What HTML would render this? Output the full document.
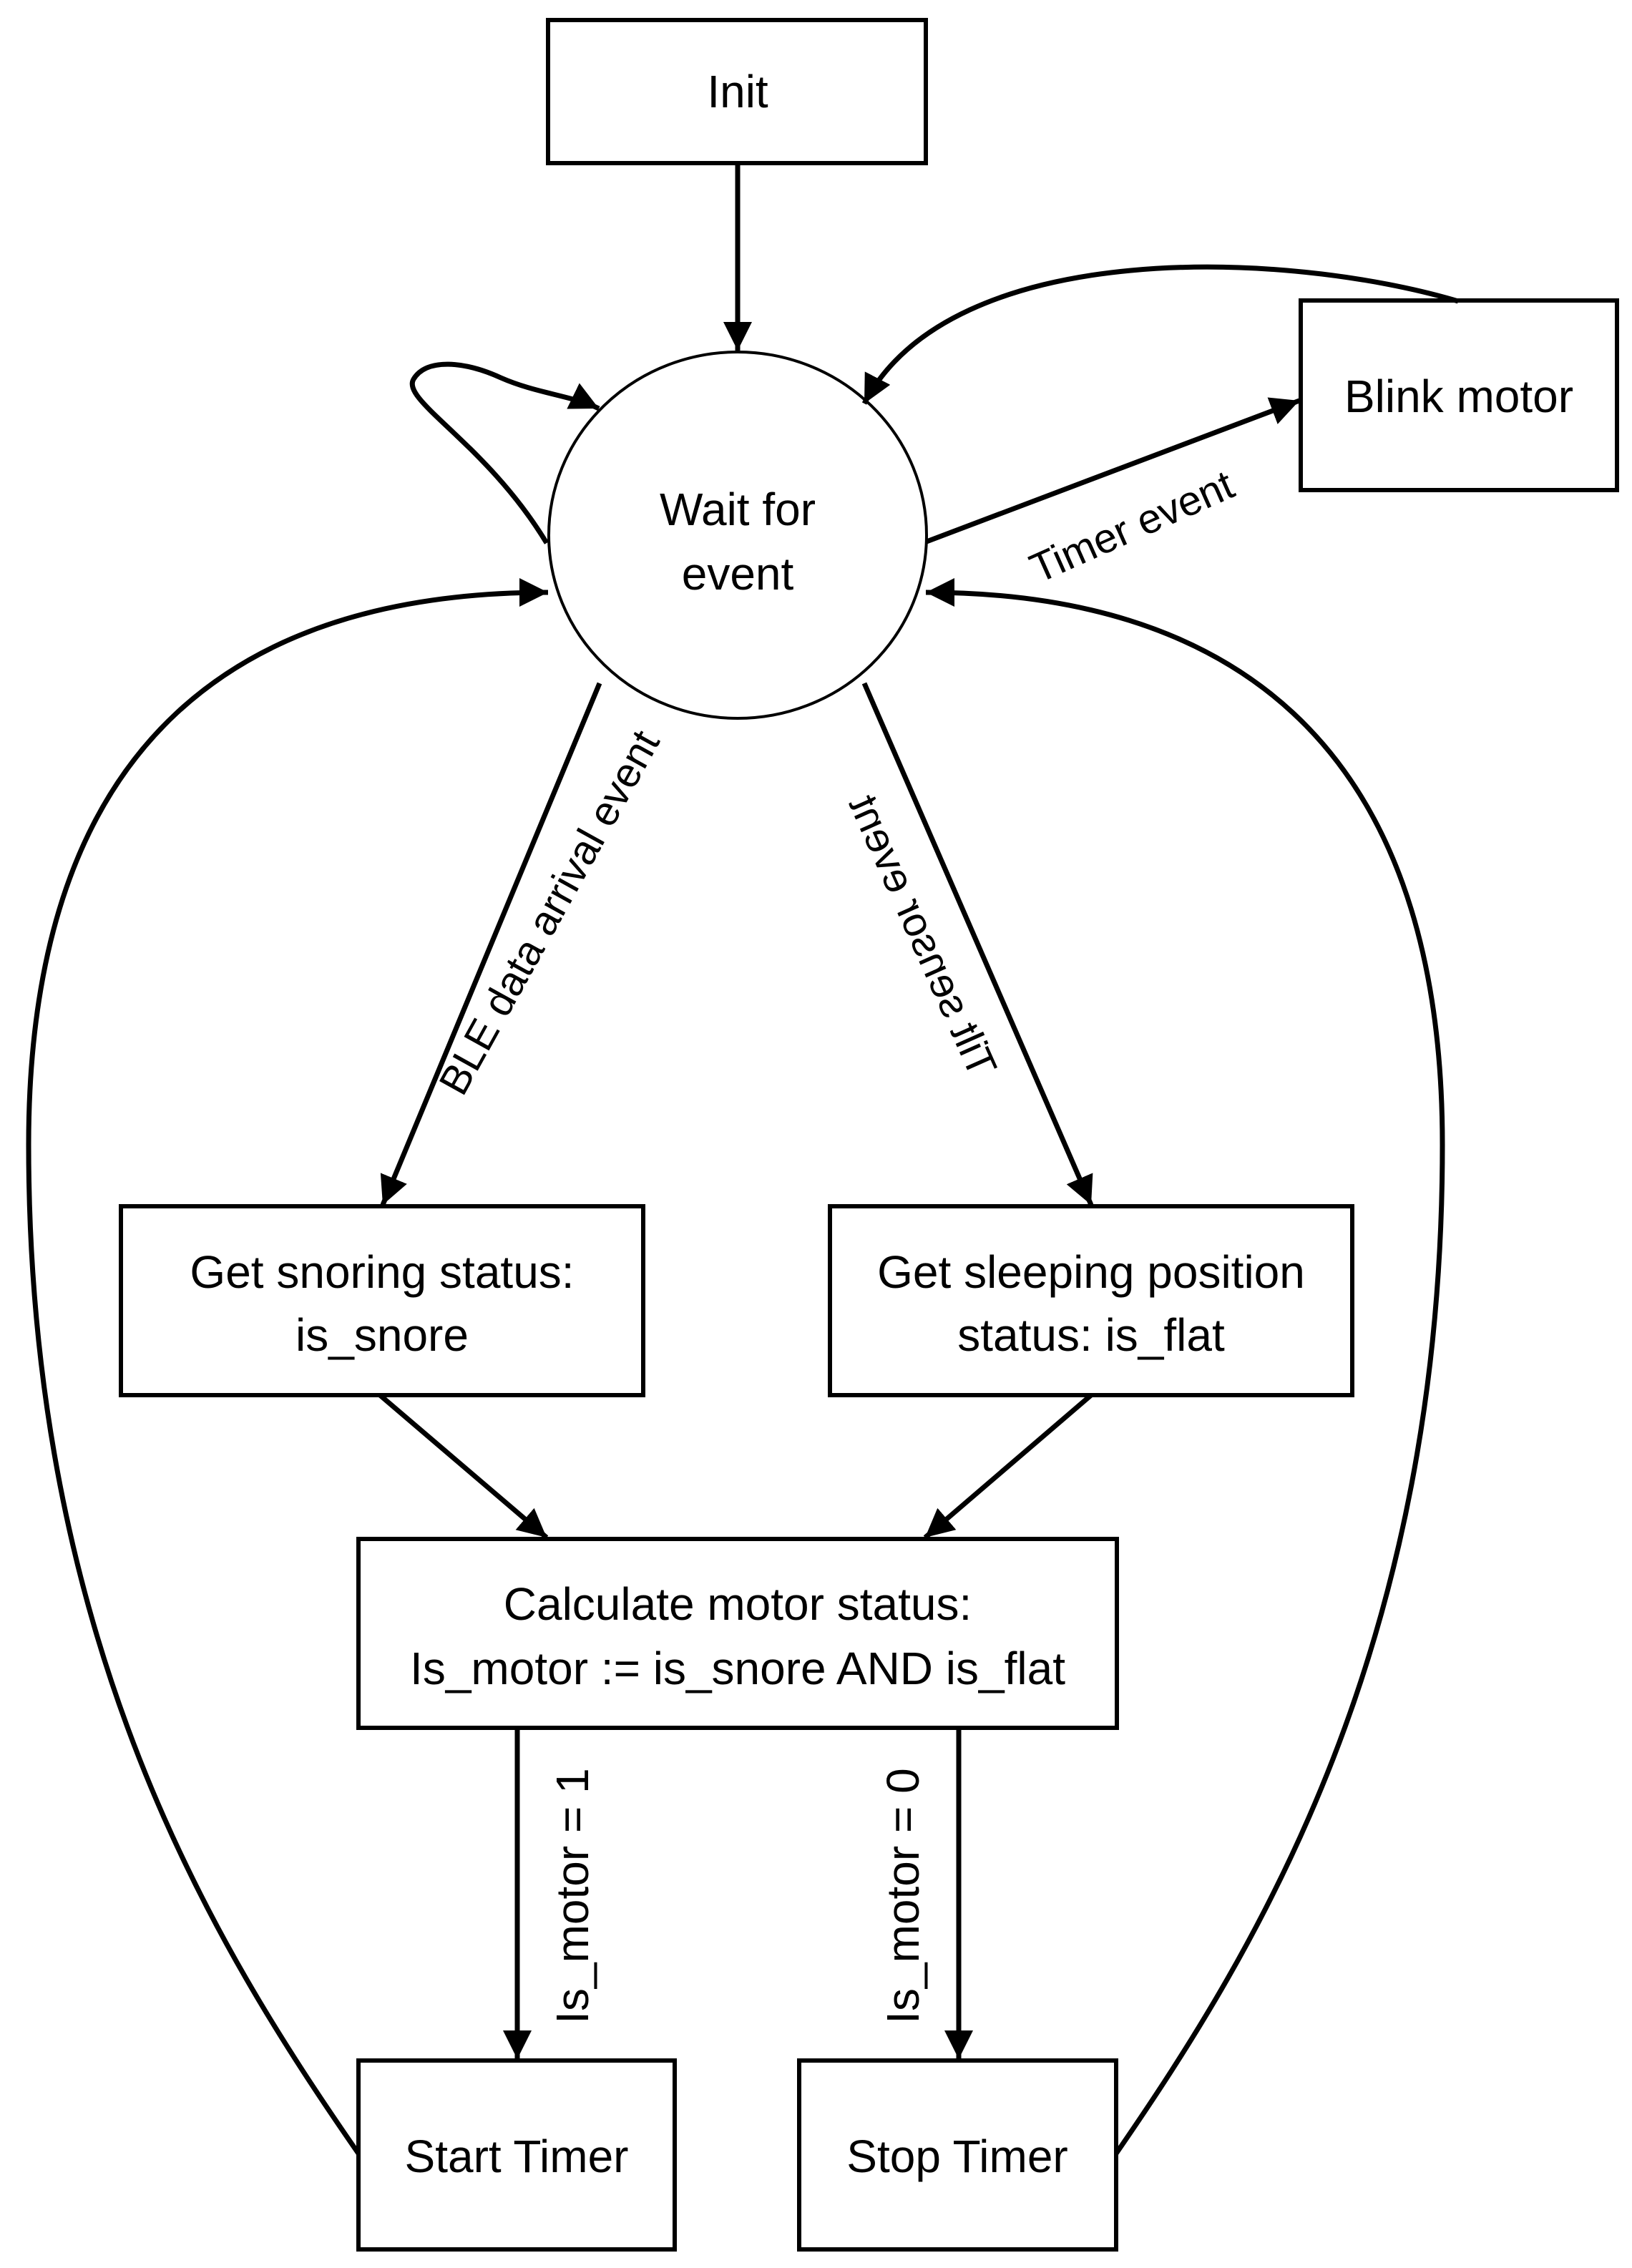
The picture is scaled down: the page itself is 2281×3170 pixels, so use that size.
<!DOCTYPE html>
<html><head><meta charset="utf-8"><style>
html,body{margin:0;padding:0;background:#fff}
svg{display:block}
text{font-family:"Liberation Sans",sans-serif;font-size:64px;fill:#000}
.s{font-size:58px}
</style></head><body>
<svg width="2281" height="3170" viewBox="0 0 2281 3170" xmlns="http://www.w3.org/2000/svg">
<defs>
<marker id="a" markerUnits="userSpaceOnUse" markerWidth="44" markerHeight="40" refX="40" refY="20" orient="auto">
<path d="M0,0 L40,20 L0,40 Z" fill="#000"/>
</marker>
</defs>
<g fill="none" stroke="#000" stroke-width="6">
<rect x="766" y="28" width="528" height="200"/>
<rect x="1818" y="420" width="442" height="265"/>
<rect x="169" y="1686" width="730" height="264"/>
<rect x="1160" y="1686" width="730" height="264"/>
<rect x="501" y="2151" width="1060" height="264"/>
<rect x="501" y="2880" width="442" height="264"/>
<rect x="1117" y="2880" width="443" height="264"/>
</g>
<ellipse cx="1031" cy="748" rx="264" ry="256" fill="none" stroke="#000" stroke-width="4"/>
<g fill="none" stroke="#000" stroke-width="7" marker-end="url(#a)">
<line x1="1031" y1="228" x2="1031" y2="490"/>
<path d="M764,759 C680,620 560,560 578,530 C596,500 650,505 700,528 C750,550 800,553 837,571"/>
<path d="M2038,421 C1800,350 1330,330 1208,564"/>
<line x1="1295" y1="757" x2="1816" y2="560"/>
<line x1="838" y1="955" x2="535" y2="1684"/>
<line x1="1208" y1="955" x2="1525" y2="1684"/>
<line x1="531" y1="1950" x2="764" y2="2149"/>
<line x1="1525" y1="1950" x2="1293" y2="2149"/>
<line x1="723" y1="2415" x2="723" y2="2878"/>
<line x1="1340" y1="2415" x2="1340" y2="2878"/>
<path d="M501,3010 C300,2720 40,2300 40,1600 C40,1020 350,828 766,828"/>
<path d="M1560,3010 C1760,2720 2016,2300 2016,1600 C2016,1020 1700,828 1294,828"/>
</g>
<text x="1031" y="150" text-anchor="middle">Init</text>
<text x="2039" y="576" text-anchor="middle">Blink motor</text>
<text x="1031" y="734" text-anchor="middle">Wait for</text>
<text x="1031" y="824" text-anchor="middle">event</text>
<text x="534" y="1800" text-anchor="middle">Get snoring status:</text>
<text x="534" y="1888" text-anchor="middle">is_snore</text>
<text x="1525" y="1800" text-anchor="middle">Get sleeping position</text>
<text x="1525" y="1888" text-anchor="middle">status: is_flat</text>
<text x="1031" y="2264" text-anchor="middle">Calculate motor status:</text>
<text x="1031" y="2354" text-anchor="middle">Is_motor := is_snore AND is_flat</text>
<text x="722" y="3036" text-anchor="middle">Start Timer</text>
<text x="1338" y="3036" text-anchor="middle">Stop Timer</text>
<text class="s" transform="translate(1590,754) rotate(-24)" text-anchor="middle">Timer event</text>
<text class="s" transform="translate(785,1285) rotate(-61)" text-anchor="middle">BLE data arrival event</text>
<text class="s" transform="translate(1272,1316) rotate(-114) scale(1,-1)" text-anchor="middle">Tilt sensor event</text>
<text transform="translate(822,2650) rotate(-90)" text-anchor="middle">Is_motor = 1</text>
<text transform="translate(1284,2650) rotate(-90)" text-anchor="middle">Is_motor = 0</text>
</svg>
</body></html>
